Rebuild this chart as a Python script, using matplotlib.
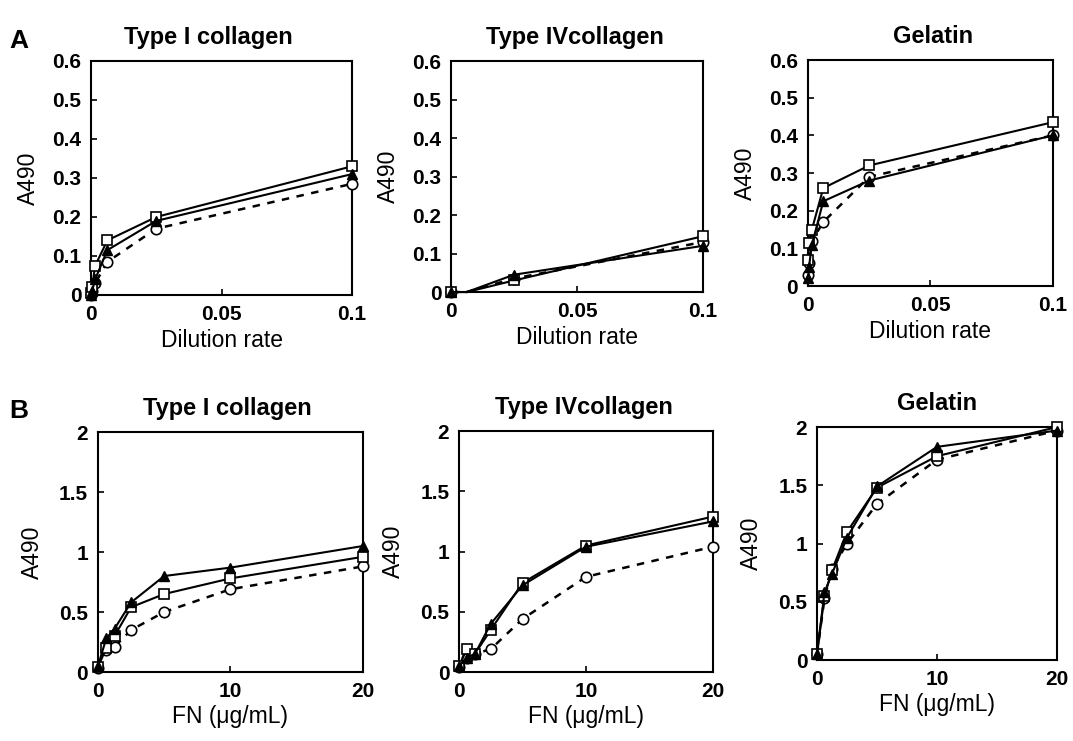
import matplotlib
matplotlib.use("Agg")
import matplotlib.pyplot as plt

plt.rcParams['font.family'] = ['Liberation Sans', 'DejaVu Sans']

# ---- Panel A data (dilution rate) ----
dil_x = [0.0001, 0.0004, 0.0016, 0.00625, 0.025, 0.1]

a1_sq = [0.005, 0.02, 0.075, 0.14, 0.20, 0.33]
a1_tri = [0.0, 0.01, 0.04, 0.115, 0.19, 0.31]
a1_ci = [0.0, 0.01, 0.03, 0.085, 0.17, 0.285]

a2_x = [0.0001, 0.00625, 0.025, 0.1]
a2_sq = [0.0, 0.0, 0.03, 0.145]
a2_tri = [0.0, 0.0, 0.045, 0.12]
a2_ci = [0.0, 0.0, 0.035, 0.13]

a3_sq = [0.07, 0.115, 0.15, 0.26, 0.32, 0.435]
a3_tri = [0.02, 0.05, 0.11, 0.225, 0.28, 0.40]
a3_ci = [0.03, 0.06, 0.12, 0.17, 0.29, 0.40]

# ---- Panel B data (FN ug/mL) ----
fn_x = [0, 0.625, 1.25, 2.5, 5, 10, 20]

b1_sq = [0.04, 0.20, 0.30, 0.54, 0.65, 0.78, 0.96]
b1_tri = [0.05, 0.28, 0.36, 0.58, 0.80, 0.87, 1.05]
b1_ci = [0.03, 0.18, 0.21, 0.35, 0.50, 0.69, 0.88]

b2_sq = [0.05, 0.19, 0.15, 0.35, 0.74, 1.05, 1.29]
b2_tri = [0.05, 0.12, 0.15, 0.40, 0.72, 1.04, 1.25]
b2_ci = [0.04, 0.12, 0.15, 0.19, 0.44, 0.79, 1.04]

b3_sq = [0.05, 0.55, 0.77, 1.10, 1.48, 1.75, 2.00]
b3_tri = [0.05, 0.58, 0.74, 1.05, 1.49, 1.83, 1.97]
b3_ci = [0.05, 0.53, 0.78, 1.00, 1.34, 1.72, 1.97]

titles = ["Type I collagen", "Type IVcollagen", "Gelatin"]

fig = plt.figure(figsize=(10.73, 7.41), dpi=100)

pos_A = [
    (0.0848, 0.6019, 0.2433, 0.3158),
    (0.4203, 0.6059, 0.2349, 0.3117),
    (0.7530, 0.6140, 0.2283, 0.3050),
]
pos_B = [
    (0.0913, 0.0931, 0.2470, 0.3239),
    (0.4278, 0.0931, 0.2367, 0.3252),
    (0.7614, 0.1093, 0.2237, 0.3144),
]
title_x_A = [0.45, 0.49, 0.51]
title_x_B = [0.49, 0.49, 0.5]

A_data = [
    (dil_x, a1_sq, a1_tri, a1_ci, None),
    (a2_x, a2_sq, a2_tri, a2_ci, [0, 2, 3]),
    (dil_x, a3_sq, a3_tri, a3_ci, None),
]
B_data = [
    (fn_x, b1_sq, b1_tri, b1_ci, None),
    (fn_x, b2_sq, b2_tri, b2_ci, None),
    (fn_x, b3_sq, b3_tri, b3_ci, None),
]

lw = 1.5
ms = 7.5


def draw(ax, x, sq, tri, ci, mev):
    ax.plot(x, ci, linestyle=(0, (3, 3)), color='black', lw=1.8,
            marker='o', mfc='white', mec='black', ms=ms, mew=1.2,
            markevery=mev, clip_on=False, zorder=3)
    ax.plot(x, sq, linestyle='-', color='black', lw=lw,
            marker='s', mfc='white', mec='black', ms=ms, mew=1.2,
            markevery=mev, clip_on=False, zorder=4)
    ax.plot(x, tri, linestyle='-', color='black', lw=lw,
            marker='^', mfc='black', mec='black', ms=ms, mew=1.0,
            markevery=mev, clip_on=False, zorder=5)


def style(ax):
    for s in ax.spines.values():
        s.set_linewidth(1.5)
    ax.tick_params(direction='in', length=4, width=1.2, labelsize=15)
    ax.tick_params(axis='x', pad=7)
    ax.tick_params(axis='y', pad=7)
    for lab in ax.get_xticklabels() + ax.get_yticklabels():
        lab.set_fontweight('bold')


for i in range(3):
    ax = fig.add_axes(pos_A[i])
    x, sq, tri, ci, mev = A_data[i]
    draw(ax, x, sq, tri, ci, mev)
    ax.set_xlim(0, 0.1)
    ax.set_ylim(0, 0.6)
    ax.set_xticks([0, 0.05, 0.1])
    ax.set_xticklabels(["0", "0.05", "0.1"])
    ax.set_yticks([0, 0.1, 0.2, 0.3, 0.4, 0.5, 0.6])
    ax.set_yticklabels(["0", "0.1", "0.2", "0.3", "0.4", "0.5", "0.6"])
    style(ax)
    ax.set_xlabel("Dilution rate", fontsize=16.5, labelpad=4)
    ax.set_ylabel("A490", fontsize=16.5, labelpad=9)
    ax.set_title(titles[i], fontsize=17, fontweight='bold', pad=12,
                 x=title_x_A[i])

for i in range(3):
    ax = fig.add_axes(pos_B[i])
    x, sq, tri, ci, mev = B_data[i]
    draw(ax, x, sq, tri, ci, mev)
    ax.set_xlim(0, 20)
    ax.set_ylim(0, 2)
    ax.set_xticks([0, 10, 20])
    ax.set_xticklabels(["0", "10", "20"])
    ax.set_yticks([0, 0.5, 1, 1.5, 2])
    ax.set_yticklabels(["0", "0.5", "1", "1.5", "2"])
    style(ax)
    ax.set_xlabel("FN (\u03bcg/mL)", fontsize=16.5, labelpad=3)
    ax.set_ylabel("A490", fontsize=16.5, labelpad=11)
    ax.set_title(titles[i], fontsize=17, fontweight='bold', pad=12,
                 x=title_x_B[i])

fig.text(0.009, 0.944, "A", fontsize=19, fontweight='bold', va='center')
fig.text(0.009, 0.445, "B", fontsize=19, fontweight='bold', va='center')

fig.savefig("out.png", dpi=100)
